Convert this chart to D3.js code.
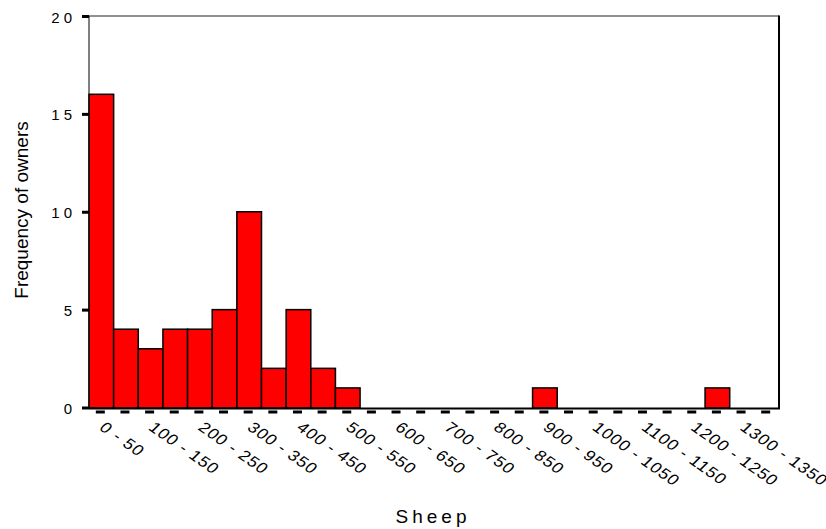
<!DOCTYPE html>
<html><head><meta charset="utf-8">
<script src="https://cdn.jsdelivr.net/npm/d3@7"></script>
<style>body{margin:0;background:#fff}svg{display:block}text{font-family:"Liberation Sans",Arial,sans-serif;fill:#000}</style>
</head><body><svg id="c" width="826" height="529"></svg>
<script>
const categories = ["0 - 50","50 - 100","100 - 150","150 - 200","200 - 250","250 - 300","300 - 350","350 - 400","400 - 450","450 - 500","500 - 550","550 - 600","600 - 650","650 - 700","700 - 750","750 - 800","800 - 850","850 - 900","900 - 950","950 - 1000","1000 - 1050","1050 - 1100","1100 - 1150","1150 - 1200","1200 - 1250","1250 - 1300","1300 - 1350","1350 - 1400"];
const values = [16,4,3,4,4,5,10,2,5,2,1,0,0,0,0,0,0,0,1,0,0,0,0,0,0,1,0,0];
const yTicks = [0,5,10,15,20];
const xTickLabels = categories.filter((d,i)=>i%2===0);
const xTitle = "Sheep";
const yTitle = "Frequency of owners";

const svg = d3.select("#c");
const L=89, R=779, T=16, B=407.5;
const x = d3.scaleBand().domain(categories).range([L,R]).padding(0);
const y = d3.scaleLinear().domain([0,20]).range([B,T]);

// frame
svg.append("line").attr("x1",L).attr("x2",R).attr("y1",T).attr("y2",T).attr("stroke","#222").attr("stroke-width",1);
svg.append("line").attr("x1",L).attr("x2",L).attr("y1",T).attr("y2",409).attr("stroke","#000").attr("stroke-width",1);

// bars
const barData = values.map((v,i)=>({c:categories[i],v})).filter(d=>d.v>0);
svg.append("g").selectAll("rect").data(barData)
  .join("rect")
  .attr("x",d=>x(d.c)).attr("width",x.bandwidth())
  .attr("y",d=>y(d.v)).attr("height",d=>B+0.5-y(d.v))
  .attr("fill","#ff0000").attr("stroke","#000").attr("stroke-width",1.5);

svg.append("line").attr("x1",L).attr("x2",R+1).attr("y1",408.5).attr("y2",408.5).attr("stroke","#000").attr("stroke-width",2);
svg.append("line").attr("x1",R).attr("x2",R).attr("y1",T-0.5).attr("y2",409).attr("stroke","#000").attr("stroke-width",2);

// y axis ticks
const yAxis = d3.axisLeft(y).tickValues(yTicks).tickSize(0).tickPadding(0).tickFormat(d3.format("d"));
const gy = svg.append("g").attr("transform",`translate(${L},0)`).call(yAxis);
gy.select(".domain").remove();
gy.selectAll(".tick").append("rect").attr("x",-7).attr("y",-1.5).attr("width",7).attr("height",3).attr("fill","#000");
gy.selectAll(".tick text").attr("x",-13).attr("dy","0.4em").attr("font-size",15).attr("letter-spacing","4px")
  .attr("font-family","Liberation Sans, Arial, sans-serif").attr("fill","#000").attr("text-anchor","end");

// x axis dashes + labels
const gx = svg.append("g");
gx.selectAll("rect").data(categories).join("rect")
  .attr("x",d=>x(d)+x.bandwidth()/2-5.5).attr("y",410.5).attr("width",9).attr("height",3).attr("fill","#000");
gx.selectAll("text").data(xTickLabels).join("text")
  .attr("transform",d=>`translate(${x(d)+x.bandwidth()/2-3},429) scale(1.2,1) rotate(40)`)
  .attr("font-size",15).attr("letter-spacing","0.9px").text(d=>d);

// titles
svg.append("text").attr("x",433).attr("y",523).attr("text-anchor","middle").attr("font-size",19).attr("letter-spacing","4px").text(xTitle);
svg.append("text").attr("transform","translate(28,210) rotate(-90)").attr("text-anchor","middle").attr("font-size",19).text(yTitle);
</script></body></html>
